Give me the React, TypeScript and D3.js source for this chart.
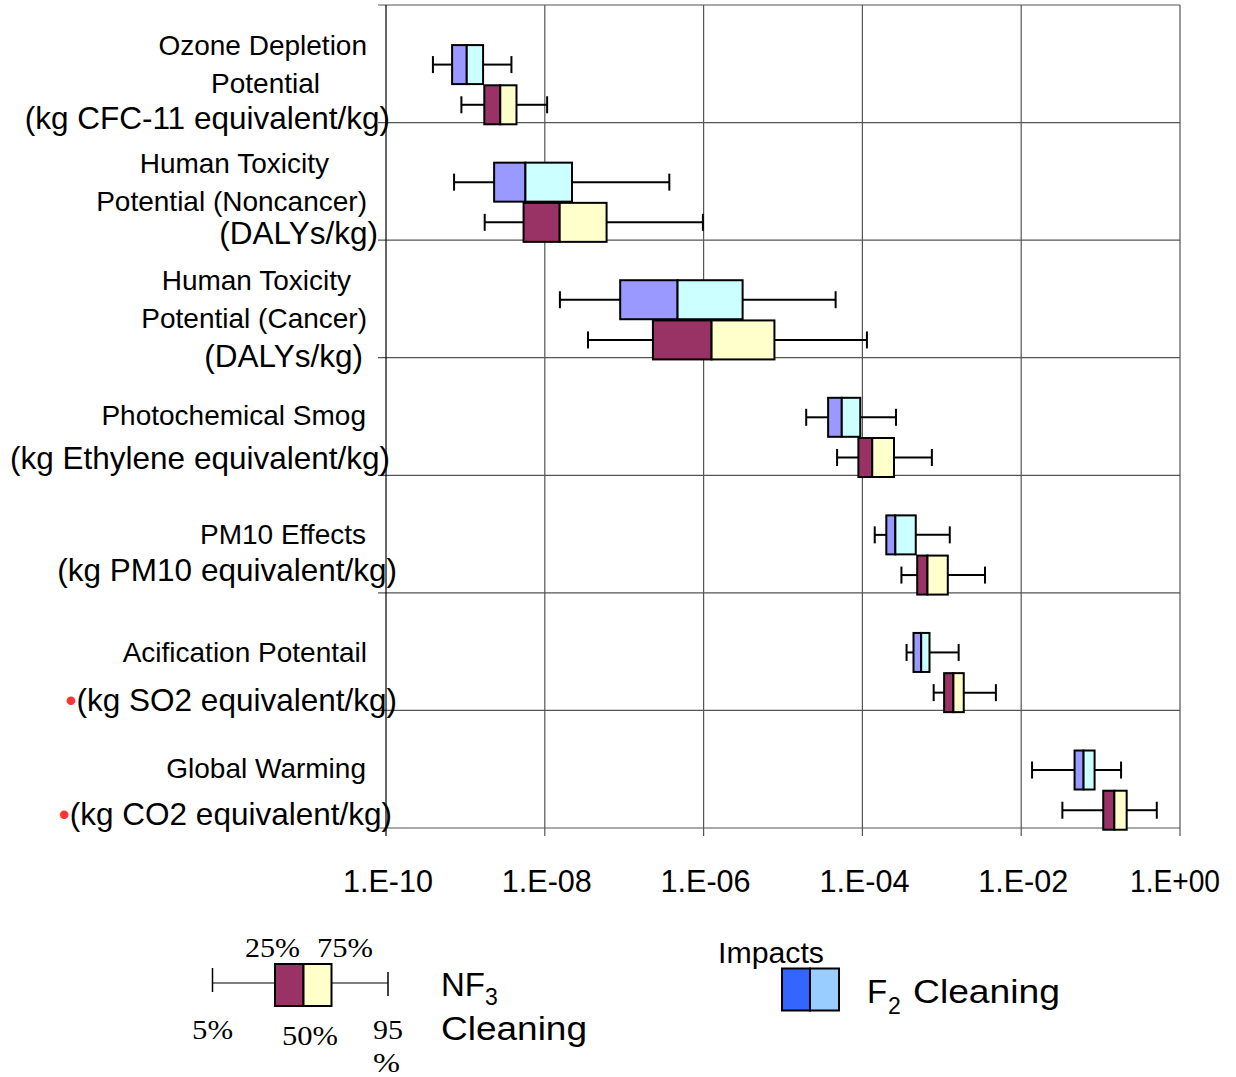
import React from "react";
import * as d3 from "d3";

// ---------- data ----------
const categories = [
  "Ozone Depletion",
  "Human Toxicity Noncancer",
  "Human Toxicity Cancer",
  "Photochemical Smog",
  "PM10 Effects",
  "Acification Potentail",
  "Global Warming",
];

// F2 cleaning percentiles
const f2P5 = [3.9e-10, 7.2e-10, 1.55e-8, 1.96e-5, 1.43e-4, 3.6e-4, 1.37e-2];
const f2P25 = [6.8e-10, 2.3e-9, 8.9e-8, 3.7e-5, 2.0e-4, 4.4e-4, 4.7e-2];
const f2P50 = [1.04e-9, 5.7e-9, 4.7e-7, 5.5e-5, 2.6e-4, 5.5e-4, 6.1e-2];
const f2P75 = [1.67e-9, 2.2e-8, 3.1e-6, 9.4e-5, 4.7e-4, 7.0e-4, 8.4e-2];
const f2P95 = [3.8e-9, 3.7e-7, 4.6e-5, 2.65e-4, 1.26e-3, 1.63e-3, 0.181];

// NF3 cleaning percentiles
const nf3P5 = [8.9e-10, 1.75e-9, 3.5e-8, 4.8e-5, 3.1e-4, 7.9e-4, 3.3e-2];
const nf3P25 = [1.73e-9, 5.4e-9, 2.3e-7, 8.9e-5, 4.9e-4, 1.07e-3, 0.108];
const nf3P50 = [2.75e-9, 1.54e-8, 1.26e-6, 1.33e-4, 6.6e-4, 1.40e-3, 0.149];
const nf3P75 = [4.4e-9, 6.0e-8, 7.8e-6, 2.5e-4, 1.19e-3, 1.89e-3, 0.213];
const nf3P95 = [1.07e-8, 9.8e-7, 1.14e-4, 7.5e-4, 3.5e-3, 4.8e-3, 0.51];

const tickValues = [1e-10, 1e-8, 1e-6, 1e-4, 1e-2, 1];
const tickLabels = ["1.E-10", "1.E-08", "1.E-06", "1.E-04", "1.E-02", "1.E+00"];

// category label lines: [text, isUnitLine, hasBullet]
const labelLines: [string, boolean, boolean][][] = [
  [["Ozone Depletion", false, false], ["Potential", false, false], ["(kg CFC-11 equivalent/kg)", true, false]],
  [["Human Toxicity", false, false], ["Potential (Noncancer)", false, false], ["(DALYs/kg)", true, false]],
  [["Human Toxicity", false, false], ["Potential (Cancer)", false, false], ["(DALYs/kg)", true, false]],
  [["Photochemical Smog", false, false], ["(kg Ethylene equivalent/kg)", true, false]],
  [["PM10 Effects", false, false], ["(kg PM10 equivalent/kg)", true, false]],
  [["Acification Potentail", false, false], ["(kg SO2 equivalent/kg)", true, true]],
  [["Global Warming", false, false], ["(kg CO2 equivalent/kg)", true, true]],
];

// ---------- layout (style, not data) ----------
const labelLayout: { x: number; y: number }[][] = [
  [{ x: 367, y: 55 }, { x: 320, y: 93 }, { x: 390, y: 129 }],
  [{ x: 329, y: 173 }, { x: 367, y: 211 }, { x: 378, y: 244 }],
  [{ x: 351, y: 290 }, { x: 367, y: 328 }, { x: 363, y: 367 }],
  [{ x: 366, y: 425 }, { x: 390, y: 469 }],
  [{ x: 366, y: 544 }, { x: 397, y: 581 }],
  [{ x: 367, y: 662 }, { x: 397, y: 711 }],
  [{ x: 366, y: 778 }, { x: 392, y: 825 }],
];

const SANS = "'Liberation Sans', Arial, sans-serif";
const SERIF = "'Liberation Serif', 'Times New Roman', serif";

const F2_LO = "#9999FF";
const F2_HI = "#CCFFFF";
const NF_LO = "#993366";
const NF_HI = "#FFFFCC";

export default function App() {
  const left = 386, right = 1180, top = 5, bottom = 828;
  const x = d3.scaleLog().domain([1e-10, 1]).range([left, right]);
  const y = d3.scaleBand<string>().domain(categories).range([top, bottom]).padding(0);
  const bw = y.bandwidth();
  const boxH = 39;
  const gridColor = "#555";

  const series = [
    { p5: f2P5, p25: f2P25, p50: f2P50, p75: f2P75, p95: f2P95, lo: F2_LO, hi: F2_HI, off: bw / 2 + 0.8 },
    { p5: nf3P5, p25: nf3P25, p50: nf3P50, p75: nf3P75, p95: nf3P95, lo: NF_LO, hi: NF_HI, off: bw / 2 + 41 },
  ];

  const hLines = categories.map((c) => (y(c) as number) + bw);

  return (
    <svg
      width={1236}
      height={1077}
      style={{ position: "absolute", left: 0, top: 0, background: "#fff" }}
      fontFamily={SANS}
    >
      <rect x={0} y={0} width={1236} height={1077} fill="#fff" />
      {/* top border */}
      <line x1={378} x2={right} y1={top} y2={top} stroke={gridColor} strokeWidth={1.2} />
      {/* horizontal gridlines */}
      {hLines.map((yy, i) => (
        <line key={"h" + i} x1={378} x2={right} y1={yy} y2={yy} stroke={gridColor} strokeWidth={1.2} />
      ))}
      {/* vertical gridlines */}
      {tickValues.map((t, i) => (
        <line
          key={"v" + i}
          x1={x(t)}
          x2={x(t)}
          y1={top}
          y2={bottom + 8}
          stroke={i === 0 ? "#000" : gridColor}
          strokeWidth={1.2}
        />
      ))}

      {/* boxes */}
      {categories.map((c, i) => {
        const y0 = y(c) as number;
        return series.map((s, k) => {
          const cy = y0 + s.off;
          const capH = 17;
          return (
            <g key={c + k}>
              <line x1={x(s.p5[i])} x2={x(s.p25[i])} y1={cy} y2={cy} stroke="#000" strokeWidth={2} />
              <line x1={x(s.p75[i])} x2={x(s.p95[i])} y1={cy} y2={cy} stroke="#000" strokeWidth={2} />
              <line x1={x(s.p5[i])} x2={x(s.p5[i])} y1={cy - capH / 2} y2={cy + capH / 2} stroke="#000" strokeWidth={2} />
              <line x1={x(s.p95[i])} x2={x(s.p95[i])} y1={cy - capH / 2} y2={cy + capH / 2} stroke="#000" strokeWidth={2} />
              <rect
                x={x(s.p25[i])}
                y={cy - boxH / 2}
                width={x(s.p50[i]) - x(s.p25[i])}
                height={boxH}
                fill={s.lo}
                stroke="#000"
                strokeWidth={2}
              />
              <rect
                x={x(s.p50[i])}
                y={cy - boxH / 2}
                width={x(s.p75[i]) - x(s.p50[i])}
                height={boxH}
                fill={s.hi}
                stroke="#000"
                strokeWidth={2}
              />
            </g>
          );
        });
      })}

      {/* category labels */}
      {labelLines.map((lines, i) =>
        lines.map(([t, unit, bullet], j) => {
          const pos = labelLayout[i][j];
          return (
            <text
              key={"l" + i + "-" + j}
              x={pos.x}
              y={pos.y}
              textAnchor="end"
              fontSize={unit ? 31.5 : 28}
              fill="#000"
            >
              {bullet ? <tspan fill="#FF3333">{"\u2022"}</tspan> : null}
              {t}
            </text>
          );
        })
      )}

      {/* x tick labels */}
      {tickValues.map((t, i) => (
        <text
          key={"t" + i}
          x={i === tickValues.length - 1 ? x(t) - 5 : x(t) + 2}
          y={892}
          textAnchor="middle"
          fontSize={32}
          textLength={90}
          lengthAdjust="spacingAndGlyphs"
          fill="#000"
        >
          {tickLabels[i]}
        </text>
      ))}

      {/* legend: NF3 box plot key */}
      <g>
        <line x1={212} x2={275} y1={983} y2={983} stroke="#000" strokeWidth={1.2} />
        <line x1={331} x2={388} y1={983} y2={983} stroke="#000" strokeWidth={1.2} />
        <line x1={212.5} x2={212.5} y1={968} y2={992} stroke="#000" strokeWidth={1.5} />
        <line x1={388} x2={388} y1={972} y2={996} stroke="#000" strokeWidth={1.5} />
        <rect x={275} y={964} width={28.5} height={42} fill={NF_LO} stroke="#000" strokeWidth={2} />
        <rect x={303.5} y={964} width={28} height={42} fill={NF_HI} stroke="#000" strokeWidth={2} />
        <text x={245} y={957} fontFamily={SERIF} fontSize={28} textLength={55} lengthAdjust="spacingAndGlyphs">25%</text>
        <text x={317} y={957} fontFamily={SERIF} fontSize={28} textLength={56} lengthAdjust="spacingAndGlyphs">75%</text>
        <text x={192} y={1039} fontFamily={SERIF} fontSize={28} textLength={41} lengthAdjust="spacingAndGlyphs">5%</text>
        <text x={282} y={1045} fontFamily={SERIF} fontSize={28} textLength={56} lengthAdjust="spacingAndGlyphs">50%</text>
        <text x={373} y={1039} fontFamily={SERIF} fontSize={28} textLength={30} lengthAdjust="spacingAndGlyphs">95</text>
        <text x={373} y={1072} fontFamily={SERIF} fontSize={28} textLength={27} lengthAdjust="spacingAndGlyphs">%</text>
        <text x={441} y={996} fontSize={33}>
          NF<tspan fontSize={23} dy={9}>3</tspan>
        </text>
        <text x={441} y={1040} fontSize={34} textLength={146} lengthAdjust="spacingAndGlyphs">Cleaning</text>
      </g>

      {/* legend: F2 */}
      <g>
        <text x={718} y={963} fontSize={29} textLength={106} lengthAdjust="spacingAndGlyphs">Impacts</text>
        <rect x={782} y={968.5} width={28} height={42} fill="#3366FF" stroke="#000" strokeWidth={2} />
        <rect x={810} y={968.5} width={29} height={42} fill="#99CCFF" stroke="#000" strokeWidth={2} />
        <text x={867} y={1003} fontSize={33}>F</text>
        <text x={888} y={1014} fontSize={23}>2</text>
        <text x={913} y={1003} fontSize={34} textLength={147} lengthAdjust="spacingAndGlyphs">Cleaning</text>
      </g>
    </svg>
  );
}
